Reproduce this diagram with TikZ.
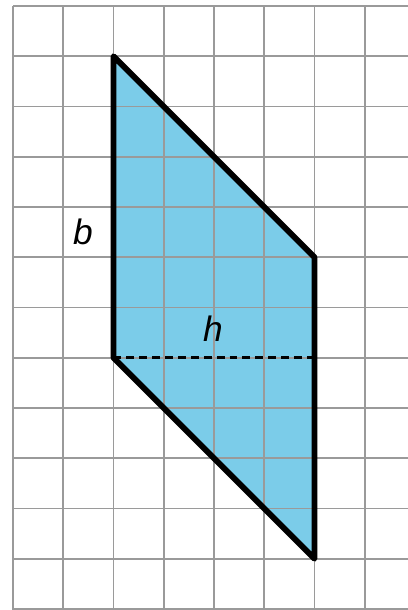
\documentclass[tikz,border=0pt]{standalone}
\usepackage{fontspec}
\setmainfont{Liberation Sans}
\usepackage{tikz}
\definecolor{gridColor}{HTML}{9A9A9A}
\definecolor{shapeColor}{HTML}{7BCCE9}

\begin{document}
\begin{tikzpicture}[every node/.style={font=\fontsize{20}{24}\selectfont\itshape}]
	\useasboundingbox (-0.259,-0.02) rectangle (7.86,12.12);
	\coordinate (topLeft) at (2,11);
	\coordinate (topRight) at (6,7);
	\coordinate (botRight) at (6,1);
	\coordinate (botLeft) at (2,5);
	\fill[shapeColor] (topLeft) -- (topRight) -- (botRight) -- (botLeft) -- cycle;
	\foreach \y in {0,...,12} {
		\draw[gridColor, line width=1.1pt] (0,\y) -- (7.9,\y);
	}
	\foreach \x in {0,...,7} {
		\draw[gridColor, line width=1.1pt] (\x,-0.1) -- (\x,12);
	}
	\draw[line width=3.3pt, line join=round] (topLeft) -- (topRight) -- (botRight) -- (botLeft) -- cycle;
	\coordinate (dashEnd) at (6,5);
	\draw[line width=1.8pt, dash pattern=on 4.5pt off 2.8pt] (botLeft) -- (dashEnd);
	\node (labelB) at (1.39,7.5) {b};
	\node (labelH) at (3.98,5.57) {h};
\end{tikzpicture}
\end{document}
